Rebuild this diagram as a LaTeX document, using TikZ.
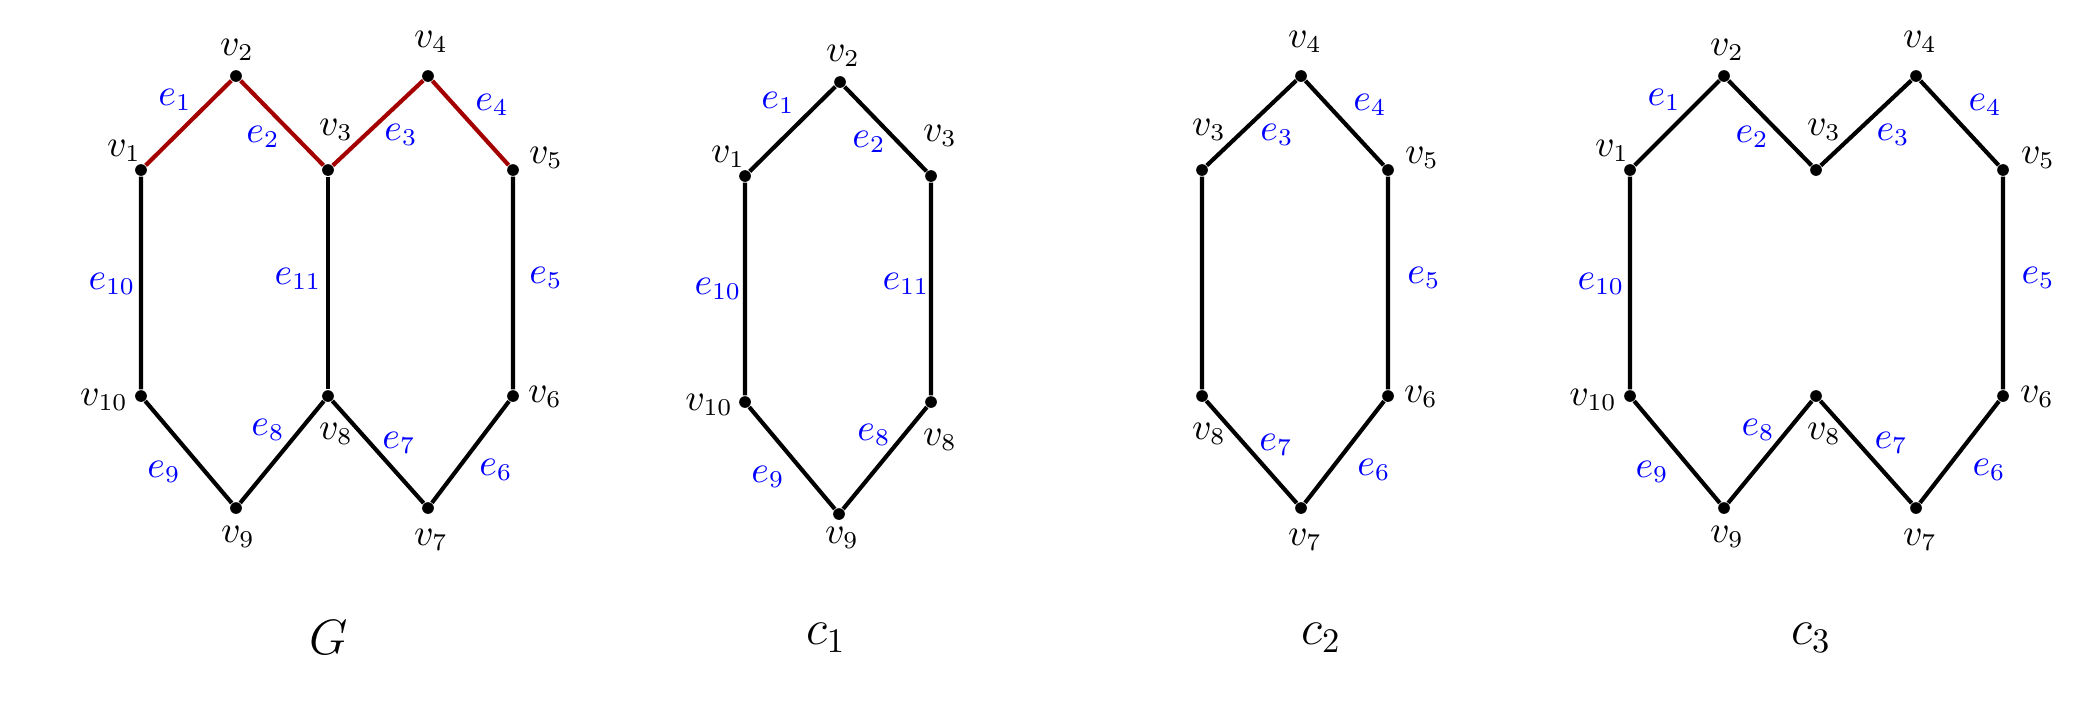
\documentclass[tikz,border=0pt]{standalone}
\usepackage{xcolor}
\definecolor{edgered}{RGB}{165,0,0}
\begin{document}
\begin{tikzpicture}[x=0.29pt,y=-0.29pt,
  vtx/.style={circle,fill=black,inner sep=0pt,minimum size=3.4pt},
  edg/.style={line width=1.2pt,black},
  redg/.style={line width=1.2pt,edgered},
  vlab/.style={inner sep=0pt,text=black,font=\fontsize{10.5}{12}\selectfont},
  elab/.style={inner sep=0pt,text=blue,font=\fontsize{10.5}{12}\selectfont},
  glab/.style={inner sep=0pt,font=\Large}]
\useasboundingbox (0,0) rectangle (2098,718);
% ---------- G ----------
\node[vtx] (g1) at (141,170) {};
\node[vtx] (g2) at (236,76) {};
\node[vtx] (g3) at (328,170) {};
\node[vtx] (g4) at (428,76) {};
\node[vtx] (g5) at (513,170) {};
\node[vtx] (g6) at (513,396) {};
\node[vtx] (g7) at (428,508) {};
\node[vtx] (g8) at (328,396) {};
\node[vtx] (g9) at (236,508) {};
\node[vtx] (g10) at (141,396) {};
\draw[redg] (g1) -- (g2) -- (g3) -- (g4) -- (g5);
\draw[edg] (g5) -- (g6) -- (g7) -- (g8) -- (g9) -- (g10) -- (g1);
\draw[edg] (g3) -- (g8);
\node[vlab] (gl1) at (124,151) {$v_1$};
\node[vlab] (gl2) at (237,50) {$v_2$};
\node[vlab] (gl3) at (336,130) {$v_3$};
\node[vlab] (gl4) at (431,42) {$v_4$};
\node[vlab] (gl5) at (546,158) {$v_5$};
\node[vlab] (gl6) at (545,397) {$v_6$};
\node[vlab] (gl7) at (431,540) {$v_7$};
\node[vlab] (gl8) at (336,434) {$v_8$};
\node[vlab] (gl9) at (238,537) {$v_9$};
\node[vlab] (gl10) at (104,400) {$v_{10}$};
\node[elab] (ge1) at (175,100) {$e_1$};
\node[elab] (ge2) at (263,137) {$e_2$};
\node[elab] (ge3) at (401,135) {$e_3$};
\node[elab] (ge4) at (492,105) {$e_4$};
\node[elab] (ge5) at (546,278) {$e_5$};
\node[elab] (ge6) at (496,470) {$e_6$};
\node[elab] (ge7) at (399,443) {$e_7$};
\node[elab] (ge8) at (268,430) {$e_8$};
\node[elab] (ge9) at (164,472) {$e_9$};
\node[elab] (ge10) at (112,284) {$e_{10}$};
\node[elab] (ge11) at (298,279) {$e_{11}$};
\node[glab] (gname) at (329,638) {$G$};
% ---------- c1 ----------
\node[vtx] (a1) at (745,176) {};
\node[vtx] (a2) at (840,82) {};
\node[vtx] (a3) at (931,176) {};
\node[vtx] (a8) at (931,402) {};
\node[vtx] (a9) at (839,514) {};
\node[vtx] (a10) at (745,402) {};
\draw[edg] (a1) -- (a2) -- (a3) -- (a8) -- (a9) -- (a10) -- (a1);
\node[vlab] (al1) at (728,157) {$v_1$};
\node[vlab] (al2) at (843,56) {$v_2$};
\node[vlab] (al3) at (940,136) {$v_3$};
\node[vlab] (al8) at (940,440) {$v_8$};
\node[vlab] (al9) at (842,538) {$v_9$};
\node[vlab] (al10) at (709,405) {$v_{10}$};
\node[elab] (ae1) at (778,103) {$e_1$};
\node[elab] (ae2) at (869,142) {$e_2$};
\node[elab] (ae8) at (874,435) {$e_8$};
\node[elab] (ae9) at (768,477) {$e_9$};
\node[elab] (ae10) at (718,289) {$e_{10}$};
\node[elab] (ae11) at (906,284) {$e_{11}$};
\node[glab] (aname) at (826,638) {$c_1$};
% ---------- c2 ----------
\node[vtx] (b3) at (1202,170) {};
\node[vtx] (b4) at (1301,76) {};
\node[vtx] (b5) at (1388,170) {};
\node[vtx] (b6) at (1388,396) {};
\node[vtx] (b7) at (1301,508) {};
\node[vtx] (b8) at (1202,396) {};
\draw[edg] (b3) -- (b4) -- (b5) -- (b6) -- (b7) -- (b8) -- (b3);
\node[vlab] (bl3) at (1209,130) {$v_3$};
\node[vlab] (bl4) at (1305,42) {$v_4$};
\node[vlab] (bl5) at (1422,158) {$v_5$};
\node[vlab] (bl6) at (1421,397) {$v_6$};
\node[vlab] (bl7) at (1305,540) {$v_7$};
\node[vlab] (bl8) at (1209,434) {$v_8$};
\node[elab] (be3) at (1277,135) {$e_3$};
\node[elab] (be4) at (1370,105) {$e_4$};
\node[elab] (be5) at (1424,278) {$e_5$};
\node[elab] (be6) at (1374,470) {$e_6$};
\node[elab] (be7) at (1276,445) {$e_7$};
\node[glab] (bname) at (1321,638) {$c_2$};
% ---------- c3 ----------
\node[vtx] (d1) at (1630,170) {};
\node[vtx] (d2) at (1724,76) {};
\node[vtx] (d3) at (1816,170) {};
\node[vtx] (d4) at (1916,76) {};
\node[vtx] (d5) at (2003,170) {};
\node[vtx] (d6) at (2003,396) {};
\node[vtx] (d7) at (1916,508) {};
\node[vtx] (d8) at (1816,396) {};
\node[vtx] (d9) at (1724,508) {};
\node[vtx] (d10) at (1630,396) {};
\draw[edg] (d1) -- (d2) -- (d3) -- (d4) -- (d5) -- (d6) -- (d7) -- (d8) -- (d9) -- (d10) -- (d1);
\node[vlab] (dl1) at (1612,151) {$v_1$};
\node[vlab] (dl2) at (1727,50) {$v_2$};
\node[vlab] (dl3) at (1824,130) {$v_3$};
\node[vlab] (dl4) at (1920,42) {$v_4$};
\node[vlab] (dl5) at (2038,158) {$v_5$};
\node[vlab] (dl6) at (2037,397) {$v_6$};
\node[vlab] (dl7) at (1920,540) {$v_7$};
\node[vlab] (dl8) at (1824,434) {$v_8$};
\node[vlab] (dl9) at (1727,537) {$v_9$};
\node[vlab] (dl10) at (1593,400) {$v_{10}$};
\node[elab] (de1) at (1664,100) {$e_1$};
\node[elab] (de2) at (1752,137) {$e_2$};
\node[elab] (de3) at (1893,135) {$e_3$};
\node[elab] (de4) at (1985,105) {$e_4$};
\node[elab] (de5) at (2038,278) {$e_5$};
\node[elab] (de6) at (1989,470) {$e_6$};
\node[elab] (de7) at (1891,443) {$e_7$};
\node[elab] (de8) at (1758,430) {$e_8$};
\node[elab] (de9) at (1652,472) {$e_9$};
\node[elab] (de10) at (1601,284) {$e_{10}$};
\node[glab] (dname) at (1811,638) {$c_3$};
\end{tikzpicture}
\end{document}
